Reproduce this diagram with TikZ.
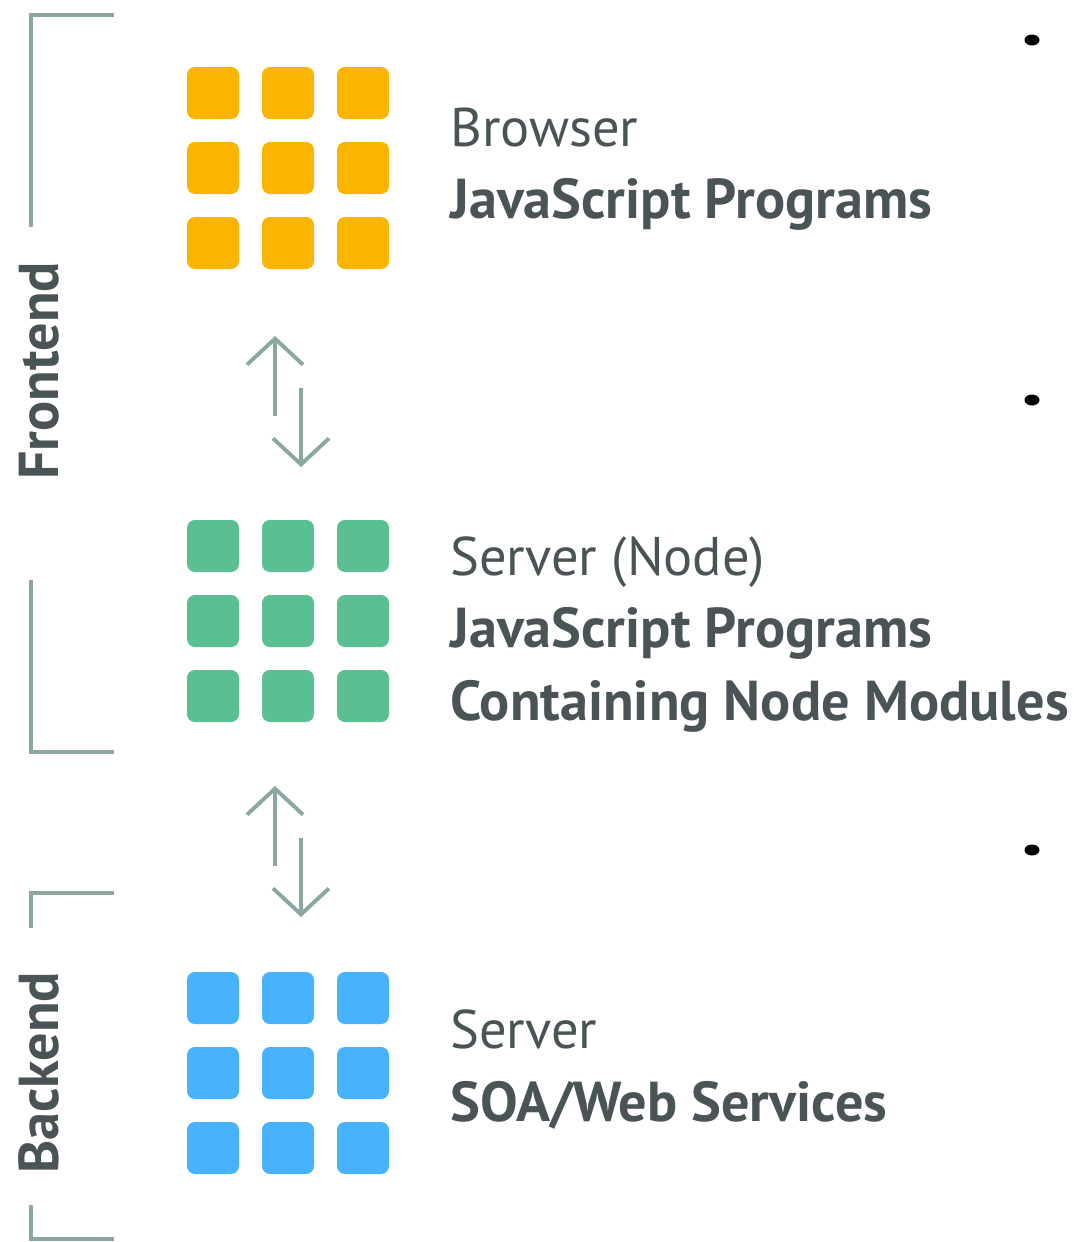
\documentclass[tikz,border=0pt]{standalone}
\usepackage{fontspec}
\setmainfont{PT Sans}
\usetikzlibrary{arrows.meta}

\definecolor{tileorange}{HTML}{FBB400}
\definecolor{tilegreen}{HTML}{5BBF94}
\definecolor{tileblue}{HTML}{48B2FC}
\definecolor{linegray}{HTML}{8AA7A2}
\definecolor{textgray}{HTML}{4A5456}

\tikzset{
  bracket/.style={draw=linegray, line width=2.2pt},
  flow/.style={draw=linegray, line width=2.2pt, -{Straight Barb[length=0.52cm, width=1.12cm, line width=2.2pt]}},
  tile/.style={rounded corners=4.5pt},
  lbl/.style={anchor=base west, text=textgray, inner sep=0pt, font=\fontsize{31}{36}\selectfont},
  lblb/.style={lbl, font=\fontsize{32}{36}\selectfont\bfseries},
  side/.style={rotate=90, text=textgray, inner sep=0pt, font=\fontsize{32}{36}\selectfont\bfseries}
}

\begin{document}
\begin{tikzpicture}[x=0.02cm, y={(0cm,-0.02cm)}]
\useasboundingbox (0,0) rectangle (1074,1242);

% Brackets
\draw[bracket] (114,15) -- (31,15) -- (31,227);
\draw[bracket] (31,580) -- (31,752) -- (114,752);
\draw[bracket] (114,893) -- (31,893) -- (31,928);
\draw[bracket] (31,1205) -- (31,1239) -- (114,1239);
\node[side] (front) at (39,371) {Frontend};
\node[side] (back) at (39,1073) {Backend};

% Tiles
\foreach \r in {0,1,2} {
  \foreach \c in {0,1,2} {
    \fill[tileorange, tile] (187+75*\c, 67+75*\r) rectangle ++(52,52);
    \fill[tilegreen, tile] (187+75*\c, 520+75*\r) rectangle ++(52,52);
    \fill[tileblue, tile] (187+75*\c, 972+75*\r) rectangle ++(52,52);
  }
}

% Labels
\node[lbl] (browser) at (450,146) {Browser};
\node[lblb] (jsone) at (450,218) {JavaScript Programs};
\node[lbl] (servernode) at (450,575) {Server (Node)};
\node[lblb] (jstwo) at (450,647) {JavaScript Programs};
\node[lblb] (modules) at (450,720) {Containing Node Modules};
\node[lbl] (server) at (450,1048) {Server};
\node[lblb] (soa) at (450,1121) {SOA/Web Services};

% Arrows
\coordinate (upa) at (275,416);
\coordinate (upb) at (275,336);
\coordinate (dna) at (301,388);
\coordinate (dnb) at (301,467);
\draw[flow] (upa) -- (upb);
\draw[flow] (dna) -- (dnb);
\coordinate (upc) at (275,866);
\coordinate (upd) at (275,786);
\coordinate (dnc) at (301,838);
\coordinate (dnd) at (301,917);
\draw[flow] (upc) -- (upd);
\draw[flow] (dnc) -- (dnd);

% Dots
\foreach \y in {40,400,850} {
  \fill[black] (1032,\y) ellipse [x radius=0.15cm, y radius=0.11cm];
}
\end{tikzpicture}
\end{document}
